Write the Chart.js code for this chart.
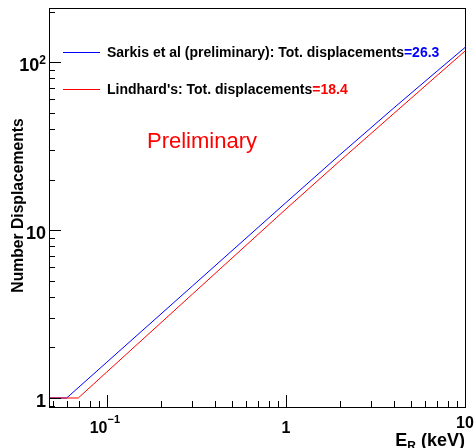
<!DOCTYPE html>
<html>
<head>
<meta charset="utf-8">
<script src="https://cdn.jsdelivr.net/npm/chart.js@4/dist/chart.umd.min.js"></script>
<style>
html,body{margin:0;padding:0;background:#fff;}
canvas{display:block;}
</style>
</head>
<body>
<canvas id="c" width="476" height="448"></canvas>
<script>
// ---- data ----
const sarkisE = [0.0475, 0.0596, 0.1, 0.3, 1, 2, 4, 7, 10];
const sarkisN = [1, 1, 1.635, 4.64, 14.57, 28.06, 53.3, 88.6, 122.2];
const lindhardE = [0.0475, 0.0692, 0.1, 0.3, 1, 2, 4, 7, 10];
const lindhardN = [1, 1, 1.43, 4.15, 13.34, 25.8, 49.4, 83.4, 116.3];

const seriesNames = ["Sarkis et al (preliminary): Tot. displacements", "Lindhard's: Tot. displacements"];
const seriesTotals = ["=26.3", "=18.4"];

const xTickValues = [0.1, 1, 10];
const xTickBase = ["10", "1", "10"];
const xTickExp = ["\u22121", "", ""];
const yTickValues = [1, 10, 100];
const yTickBase = ["1", "10", "10"];
const yTickExp = ["", "", "2"];

const xTitleMain = "E";
const xTitleSub = "R";
const xTitleRest = " (keV)";
const yTitle = "Number Displacements";
const watermark = "Preliminary";

const xMin = 0.0475, xMax = 10;
const yMin = 0.884, yMax = 210;

const BLUE = "#0000ff", RED = "#ff0000";
const FONT = "'Liberation Sans', Arial, Helvetica, sans-serif";

function pts(xs, ys){ return xs.map((x,i)=>({x:x, y:ys[i]})); }

const rootPlugin = {
  id: 'rootStyle',
  afterDatasetsDraw(chart){
    const ctx = chart.ctx;
    const a = chart.chartArea;
    const xs = chart.scales.x, ys = chart.scales.y;
    ctx.save();
    ctx.strokeStyle = '#000';
    ctx.lineWidth = 1;
    // frame
    ctx.strokeRect(Math.round(a.left)+0.5, Math.round(a.top)+0.5,
                   Math.round(a.right-a.left), Math.round(a.bottom-a.top));
    // y ticks (inside)
    ctx.beginPath();
    for (let d = -1; d <= 3; d++) {
      for (let m = 1; m <= 9; m++) {
        const v = m * Math.pow(10, d);
        if (v < yMin || v > yMax) continue;
        const py = Math.round(ys.getPixelForValue(v)) + 0.5;
        const len = (m === 1) ? 12 : 6;
        ctx.moveTo(a.left, py); ctx.lineTo(a.left + len, py);
      }
    }
    // x ticks (inside)
    for (let d = -2; d <= 1; d++) {
      for (let m = 1; m <= 9; m++) {
        const v = m * Math.pow(10, d);
        if (v < xMin || v > xMax * 1.0001) continue;
        const px = Math.round(xs.getPixelForValue(v)) + 0.5;
        const len = (m === 1) ? 12 : 6;
        ctx.moveTo(px, a.bottom); ctx.lineTo(px, a.bottom - len);
      }
    }
    ctx.stroke();

    ctx.fillStyle = '#000';
    ctx.textBaseline = 'alphabetic';
    // y tick labels
    yTickValues.forEach((v,i)=>{
      const py = ys.getPixelForValue(v);
      ctx.font = "bold 18px " + FONT;
      const wb = ctx.measureText(yTickBase[i]).width;
      ctx.font = "bold 12px " + FONT;
      const we = yTickExp[i] ? ctx.measureText(yTickExp[i]).width : 0;
      const right = 46;
      const x0 = right - wb - we;
      ctx.font = "bold 18px " + FONT;
      ctx.textAlign = 'left';
      ctx.fillText(yTickBase[i], x0, py + 9);
      if (yTickExp[i]) {
        ctx.font = "bold 12px " + FONT;
        ctx.fillText(yTickExp[i], x0 + wb, py + 2);
      }
    });
    // x tick labels
    xTickValues.forEach((v,i)=>{
      const px = xs.getPixelForValue(v);
      ctx.font = "bold 16px " + FONT;
      const wb = ctx.measureText(xTickBase[i]).width;
      ctx.font = "bold 11px " + FONT;
      const we = xTickExp[i] ? ctx.measureText(xTickExp[i]).width : 0;
      let x0 = px - (wb + we) / 2;
      let base = a.bottom + 26;
      if (i === xTickValues.length - 1) base = a.bottom + 21;
      if (xTickExp[i]) x0 -= 2;
      ctx.textAlign = 'left';
      ctx.font = "bold 16px " + FONT;
      ctx.fillText(xTickBase[i], x0, base);
      if (xTickExp[i]) {
        ctx.font = "bold 11px " + FONT;
        ctx.fillText(xTickExp[i], x0 + wb, base - 10);
      }
    });
    // x title (right aligned)
    ctx.font = "bold 18px " + FONT;
    const wE = ctx.measureText(xTitleMain).width;
    const wRest = ctx.measureText(xTitleRest).width;
    ctx.font = "bold 12px " + FONT;
    const wR = ctx.measureText(xTitleSub).width;
    let tx = a.right - (wE + wR + wRest);
    const tb = 446;
    ctx.font = "bold 18px " + FONT;
    ctx.fillText(xTitleMain, tx, tb);
    ctx.font = "bold 12px " + FONT;
    ctx.fillText(xTitleSub, tx + wE, tb + 4);
    ctx.font = "bold 18px " + FONT;
    ctx.fillText(xTitleRest, tx + wE + wR, tb);
    // y title
    ctx.save();
    ctx.translate(23, 205.5);
    ctx.rotate(-Math.PI/2);
    ctx.font = "bold 15.7px " + FONT;
    ctx.textAlign = 'center';
    ctx.fillText(yTitle, 0, 0);
    ctx.restore();

    // legend
    const colors = [BLUE, RED];
    const ly = [52, 89];
    seriesNames.forEach((name,i)=>{
      ctx.strokeStyle = colors[i];
      ctx.lineWidth = 1;
      ctx.beginPath();
      ctx.moveTo(63, ly[i] + 0.5); ctx.lineTo(100, ly[i] + 0.5);
      ctx.stroke();
      ctx.font = "bold 14px " + FONT;
      ctx.textAlign = 'left';
      ctx.fillStyle = '#000';
      ctx.fillText(name, 107, ly[i] + 5);
      const w = ctx.measureText(name).width;
      ctx.fillStyle = colors[i];
      ctx.fillText(seriesTotals[i], 107 + w, ly[i] + 5);
    });

    // watermark
    ctx.fillStyle = RED;
    ctx.font = "22px " + FONT;
    ctx.textAlign = 'left';
    ctx.fillText(watermark, 147, 148);
    ctx.restore();
  }
};

new Chart(document.getElementById('c'), {
  type: 'scatter',
  data: {
    datasets: [
      { label: seriesNames[0], data: pts(sarkisE, sarkisN), borderColor: BLUE, backgroundColor: BLUE,
        showLine: true, pointRadius: 0, borderWidth: 1, tension: 0, order: 2 },
      { label: seriesNames[1], data: pts(lindhardE, lindhardN), borderColor: RED, backgroundColor: RED,
        showLine: true, pointRadius: 0, borderWidth: 1, tension: 0, order: 1 }
    ]
  },
  options: {
    responsive: false,
    animation: false,
    devicePixelRatio: 1,
    layout: { padding: { left: 49, top: 8, right: 11, bottom: 41 } },
    plugins: { legend: { display: false }, tooltip: { enabled: false } },
    scales: {
      x: { type: 'logarithmic', min: xMin, max: xMax, display: false },
      y: { type: 'logarithmic', min: yMin, max: yMax, display: false }
    }
  },
  plugins: [rootPlugin]
});
</script>
</body>
</html>
